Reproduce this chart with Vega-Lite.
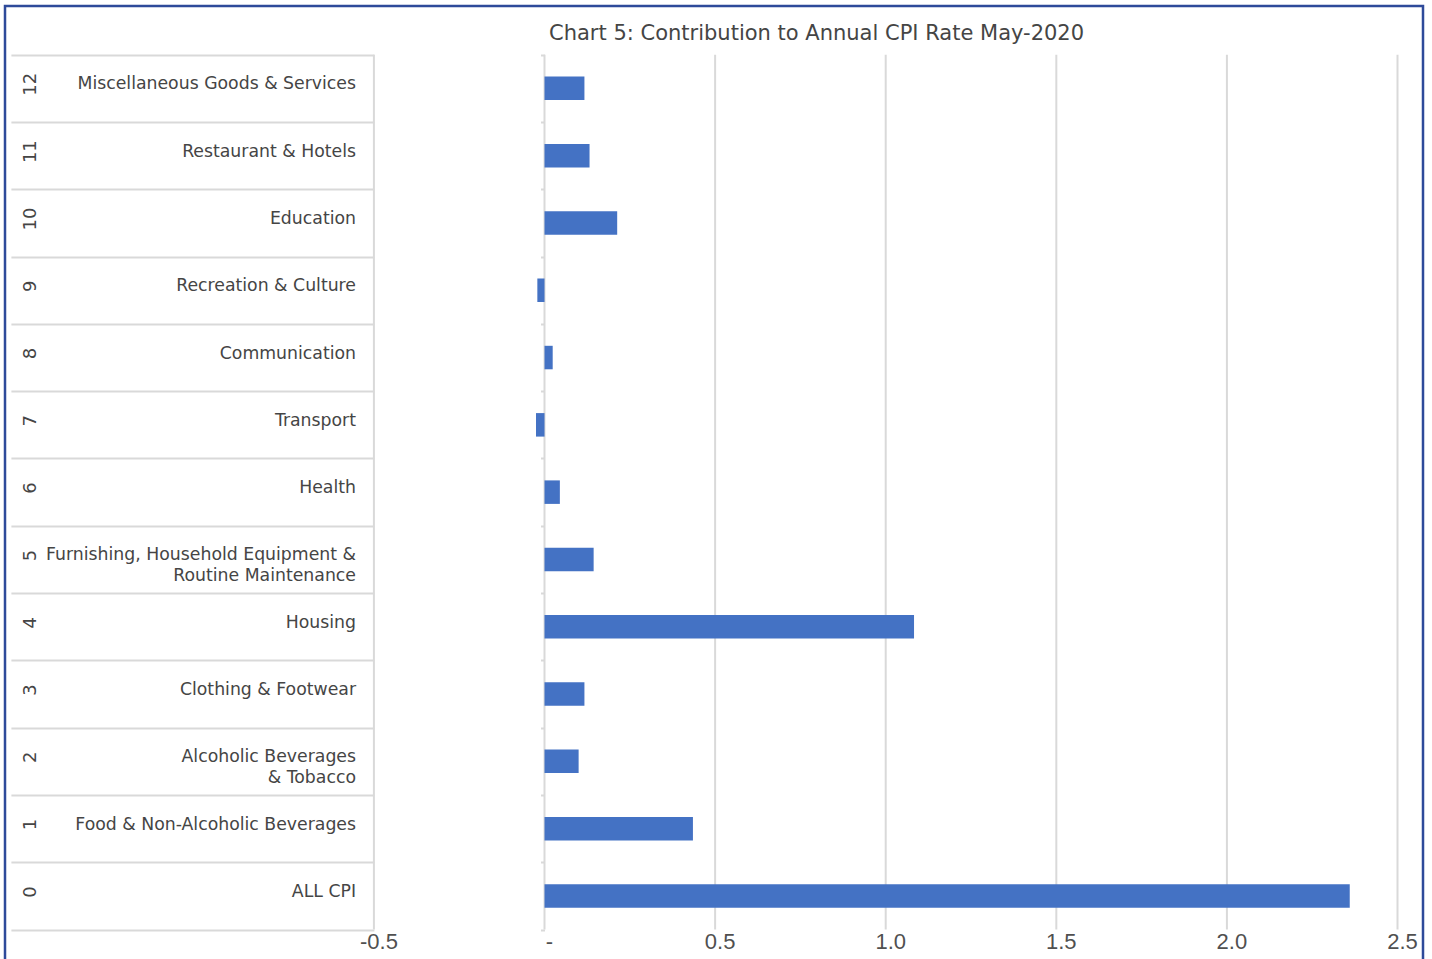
{
  "$schema": "https://vega.github.io/schema/vega-lite/v6.json",
  "width": 1418,
  "height": 953,
  "autosize": {"type": "none"},
  "padding": {"left": 5, "top": 6, "right": 9, "bottom": 0},
  "background": "white",
  "config": {"view": {"stroke": "#2E4A9A", "strokeWidth": 2.5, "strokeDash": [2371, 1418, 980]}},
  "title": {
    "text": "Chart 5: Contribution to Annual CPI Rate May-2020",
    "anchor": "start",
    "frame": "group",
    "dx": 544,
    "offset": -55,
    "baseline": "alphabetic",
    "font": "DejaVu Sans",
    "fontSize": 21,
    "fontWeight": "normal",
    "color": "#454545"
  },
  "datasets": {
    "cpi": [
      {"num": 0, "name": "ALL CPI", "value": 2.36},
      {"num": 1, "name": "Food & Non-Alcoholic Beverages", "value": 0.435},
      {"num": 2, "name": "Alcoholic Beverages\n& Tobacco", "value": 0.10},
      {"num": 3, "name": "Clothing & Footwear", "value": 0.117},
      {"num": 4, "name": "Housing", "value": 1.083},
      {"num": 5, "name": "Furnishing, Household Equipment &\nRoutine Maintenance", "value": 0.144},
      {"num": 6, "name": "Health", "value": 0.045},
      {"num": 7, "name": "Transport", "value": -0.025},
      {"num": 8, "name": "Communication", "value": 0.024},
      {"num": 9, "name": "Recreation & Culture", "value": -0.021},
      {"num": 10, "name": "Education", "value": 0.213},
      {"num": 11, "name": "Restaurant & Hotels", "value": 0.132},
      {"num": 12, "name": "Miscellaneous Goods & Services", "value": 0.117}
    ],
    "grid": [
      {"v": -0.5, "label": "-0.5"},
      {"v": 0, "label": "-"},
      {"v": 0.5, "label": "0.5"},
      {"v": 1, "label": "1.0"},
      {"v": 1.5, "label": "1.5"},
      {"v": 2, "label": "2.0"},
      {"v": 2.5, "label": "2.5"}
    ]
  },
  "layer": [
    {
      "data": {"name": "grid"},
      "mark": {"type": "rule", "color": "#d9d9d9", "strokeWidth": 2},
      "encoding": {
        "x": {"field": "v", "type": "quantitative", "scale": {"domain": [-1.5812, 2.5747], "nice": false, "zero": false, "padding": 0}, "axis": null},
        "y": {"datum": -0.5, "type": "quantitative", "scale": {"domain": [-0.9369, 13.2236], "nice": false, "zero": false, "padding": 0}, "axis": null},
        "y2": {"datum": 12.5}
      }
    },
    {
      "data": {"name": "grid"},
      "mark": {"type": "text", "font": "Liberation Sans", "fontSize": 22, "color": "#505050", "align": "center", "baseline": "middle", "dx": 5},
      "encoding": {
        "x": {"field": "v", "type": "quantitative", "axis": null},
        "y": {"datum": -0.684, "type": "quantitative", "axis": null},
        "text": {"field": "label"}
      }
    },
    {
      "data": {"name": "cpi"},
      "mark": {"type": "bar", "orient": "horizontal", "size": 23.5, "color": "#4472C4"},
      "encoding": {
        "x": {"field": "value", "type": "quantitative", "axis": null},
        "x2": {"datum": 0},
        "y": {
          "field": "num", "type": "quantitative",
          "scale": {"domain": [-0.9369, 13.2236], "nice": false, "zero": false, "padding": 0},
          "axis": {
            "orient": "left", "offset": -368.9, "title": null,
            "values": [-0.5, 0.5, 1.5, 2.5, 3.5, 4.5, 5.5, 6.5, 7.5, 8.5, 9.5, 10.5, 11.5, 12.5],
            "tickSize": 363, "tickColor": "#d9d9d9", "tickWidth": 2,
            "domain": false, "labels": false, "grid": false
          }
        }
      }
    },
    {
      "data": {"name": "cpi"},
      "mark": {"type": "text", "align": "right", "baseline": "middle", "font": "DejaVu Sans", "fontSize": 17.3, "color": "#454545", "lineBreak": "\n", "lineHeight": 21, "yOffset": -4},
      "encoding": {
        "x": {"datum": -0.5525, "type": "quantitative", "axis": null},
        "y": {
          "field": "num", "type": "quantitative",
          "scale": {"domain": [-0.9369, 13.2236], "nice": false, "zero": false, "padding": 0},
          "axis": {
            "orient": "left", "offset": -539.5, "title": null,
            "values": [-0.5, 0.5, 1.5, 2.5, 3.5, 4.5, 5.5, 6.5, 7.5, 8.5, 9.5, 10.5, 11.5, 12.5],
            "tickSize": 4, "tickColor": "#d9d9d9", "tickWidth": 2,
            "domain": false, "labels": false, "grid": false
          }
        },
        "text": {"field": "name"}
      }
    },
    {
      "data": {"name": "cpi"},
      "mark": {"type": "text", "align": "center", "baseline": "middle", "angle": 270, "font": "DejaVu Sans", "fontSize": 18, "color": "#454545", "yOffset": -4},
      "encoding": {
        "x": {"datum": -1.505, "type": "quantitative", "axis": null},
        "y": {"field": "num", "type": "quantitative", "scale": {"domain": [-0.9369, 13.2236], "nice": false, "zero": false, "padding": 0}, "axis": null},
        "text": {"field": "num", "type": "quantitative"}
      }
    }
  ],
  "resolve": {"axis": {"y": "independent"}}
}
